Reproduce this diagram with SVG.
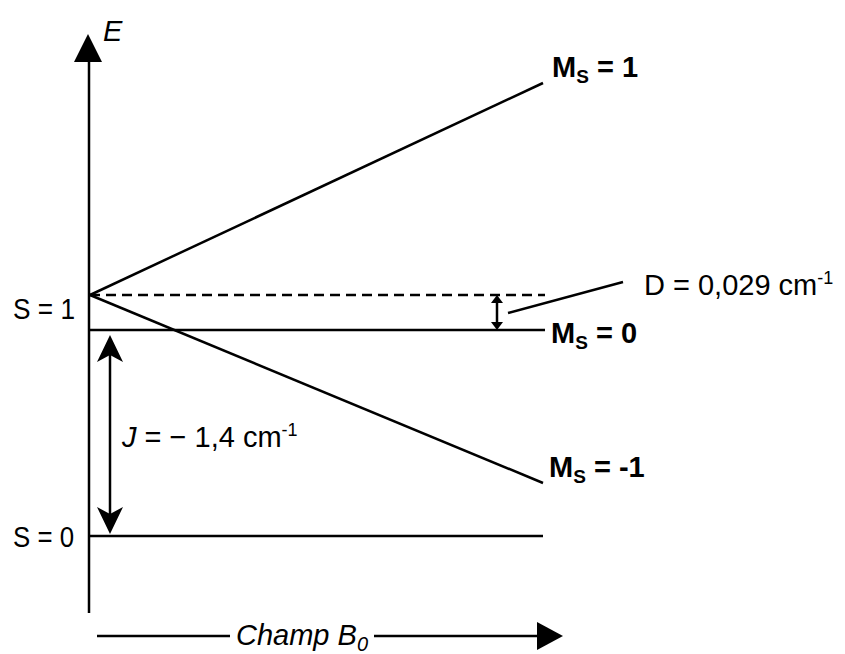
<svg xmlns="http://www.w3.org/2000/svg" width="845" height="654" viewBox="0 0 845 654">
<style>
.t{font-family:"Liberation Sans",Arial,sans-serif;font-size:29px;fill:#000}
.b{font-weight:bold}
.i{font-style:italic}
.ln{stroke:#000;stroke-width:2.5;fill:none}
.ah{fill:#000;stroke:none}
</style>
<rect width="845" height="654" fill="#fff"/>
<g id="axis-E">
<line class="ln" x1="89" y1="60" x2="89" y2="613" stroke-width="3"/>
<polygon class="ah" points="88,34 74,62 102,62"/>
<text class="t i" x="103" y="41">E</text>
</g>
<g id="axis-B0">
<line class="ln" x1="97" y1="636" x2="230" y2="636"/>
<line class="ln" x1="374" y1="636" x2="538" y2="636"/>
<polygon class="ah" points="563,636 537,622 537,650"/>
<text class="t i" x="236" y="645" font-size="30">Champ B<tspan font-size="20" dy="6">0</tspan></text>
</g>
<g id="connectors">
<line id="line-ms1" class="ln" x1="90" y1="295" x2="543" y2="83"/>
<line id="line-msm1" class="ln" x1="90" y1="295" x2="543" y2="483"/>
<line id="line-ms0" class="ln" x1="90" y1="330" x2="545" y2="330" stroke-width="3"/>
<line id="line-s0" class="ln" x1="90" y1="536" x2="543" y2="536" stroke-width="3"/>
<line id="line-dashed" class="ln" x1="90" y1="295" x2="545" y2="295" stroke-dasharray="10,6"/>
<line id="d-leader" class="ln" x1="508" y1="313" x2="623" y2="282"/>
<g id="d-arrow">
<line class="ln" x1="497" y1="300" x2="497" y2="326" stroke-width="3"/>
<polygon class="ah" points="497,295 491,303 503,303"/>
<polygon class="ah" points="497,330 491,322 503,322"/>
</g>
<g id="j-arrow">
<line class="ln" x1="110" y1="350" x2="110" y2="518" stroke-width="4"/>
<path class="ah" d="M110,335 L97,362 L110,355 L123,362 Z"/>
<path class="ah" d="M110,534 L97,507 L110,514 L123,507 Z"/>
</g>
</g>
<g id="label-s1"><text class="t" x="13" y="319" textLength="62" lengthAdjust="spacingAndGlyphs">S = 1</text></g>
<g id="label-s0"><text class="t" x="13" y="547" textLength="61" lengthAdjust="spacingAndGlyphs">S = 0</text></g>
<g id="label-ms1"><text class="t b" x="552" y="77">M<tspan font-size="19" dy="6">S</tspan><tspan dy="-6"> = 1</tspan></text></g>
<g id="label-ms0"><text class="t b" x="551" y="343">M<tspan font-size="19" dy="6">S</tspan><tspan dy="-6"> = 0</tspan></text></g>
<g id="label-msm1"><text class="t b" x="549" y="477">M<tspan font-size="19" dy="6">S</tspan><tspan dy="-6"> = -1</tspan></text></g>
<g id="label-D"><text class="t" x="644" y="295">D = 0,029 cm<tspan font-size="18" dy="-11">-1</tspan></text></g>
<g id="label-J"><text class="t" x="122" y="447"><tspan font-style="italic">J</tspan> = − 1,4 cm<tspan font-size="18" dy="-11">-1</tspan></text></g>
</svg>
